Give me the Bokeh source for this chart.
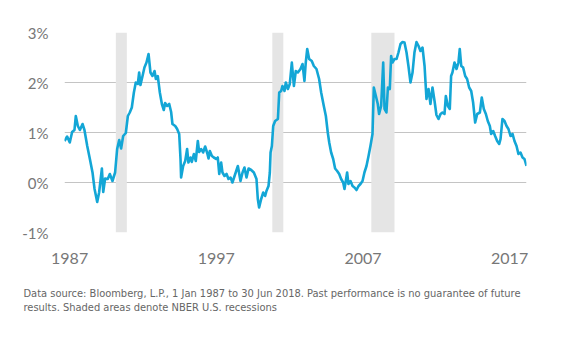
from bokeh.plotting import figure
from bokeh.models import FixedTicker, PrintfTickFormatter, CustomJSTickFormatter, Title, Range1d
from bokeh.embed import file_html
from bokeh.resources import INLINE

years = [
    1987.0, 1987.18, 1987.36, 1987.52, 1987.68, 1987.77, 1987.91, 1988.05, 1988.23, 1988.36,
    1988.55, 1988.73, 1988.91, 1989.05, 1989.23, 1989.36, 1989.55, 1989.64, 1989.77, 1989.95,
    1990.09, 1990.27, 1990.45, 1990.59, 1990.73, 1990.86, 1991.0, 1991.18, 1991.32, 1991.45,
    1991.59, 1991.73, 1991.86, 1992.0, 1992.09, 1992.18, 1992.32, 1992.45, 1992.59, 1992.73,
    1992.86, 1993.0, 1993.14, 1993.23, 1993.36, 1993.5, 1993.64, 1993.77, 1993.86, 1994.0,
    1994.14, 1994.27, 1994.36, 1994.55, 1994.68, 1994.82, 1994.91, 1994.95, 1995.09, 1995.23,
    1995.36, 1995.45, 1995.59, 1995.68, 1995.82, 1995.95, 1996.09, 1996.18, 1996.32, 1996.45,
    1996.59, 1996.73, 1996.82, 1996.91, 1997.05, 1997.18, 1997.36, 1997.45, 1997.55, 1997.68,
    1997.77, 1997.91, 1998.05, 1998.18, 1998.32, 1998.45, 1998.64, 1998.82, 1999.0, 1999.14,
    1999.27, 1999.41, 1999.55, 1999.73, 1999.91, 2000.09, 2000.18, 2000.27, 2000.41, 2000.55,
    2000.68, 2000.77, 2000.91, 2001.0, 2001.05, 2001.14, 2001.23, 2001.36, 2001.55, 2001.64,
    2001.77, 2001.86, 2002.0, 2002.09, 2002.23, 2002.36, 2002.5, 2002.64, 2002.77, 2002.91,
    2003.09, 2003.23, 2003.36, 2003.45, 2003.55, 2003.68, 2003.86, 2004.0, 2004.18, 2004.36,
    2004.5, 2004.68, 2004.82, 2004.95, 2005.05, 2005.18, 2005.32, 2005.45, 2005.59, 2005.73,
    2005.86, 2006.0, 2006.09, 2006.18, 2006.27, 2006.36, 2006.5, 2006.64, 2006.77, 2006.91,
    2007.05, 2007.18, 2007.32, 2007.45, 2007.59, 2007.73, 2007.86, 2008.0, 2008.09, 2008.23,
    2008.36, 2008.45, 2008.59, 2008.73, 2008.82, 2008.95, 2009.05, 2009.18, 2009.27, 2009.36,
    2009.5, 2009.64, 2009.77, 2009.91, 2010.05, 2010.18, 2010.32, 2010.45, 2010.59, 2010.73,
    2010.86, 2011.0, 2011.14, 2011.27, 2011.41, 2011.55, 2011.68, 2011.82, 2011.95, 2012.09,
    2012.23, 2012.36, 2012.5, 2012.64, 2012.77, 2012.91, 2013.0, 2013.14, 2013.27, 2013.36,
    2013.45, 2013.59, 2013.73, 2013.86, 2013.95, 2014.05, 2014.18, 2014.32, 2014.45, 2014.59,
    2014.73, 2014.86, 2015.0, 2015.14, 2015.32, 2015.45, 2015.59, 2015.73, 2015.86, 2016.0,
    2016.09, 2016.23, 2016.36, 2016.5, 2016.64, 2016.73, 2016.86, 2017.0, 2017.14, 2017.27,
    2017.41, 2017.55, 2017.68, 2017.82, 2017.95, 2018.09, 2018.23, 2018.36, 2018.5,
]
values = [
    0.83, 0.92, 0.80, 1.01, 1.05, 1.33, 1.13, 1.05, 1.17, 1.05,
    0.73, 0.47, 0.20, -0.13, -0.39, -0.20, 0.28, -0.19, 0.08, 0.07,
    0.17, 0.03, 0.20, 0.67, 0.85, 0.68, 0.93, 0.99, 1.33, 1.40,
    1.50, 1.80, 2.00, 1.97, 2.20, 1.95, 2.13, 2.30, 2.40, 2.57,
    2.20, 2.13, 2.23, 2.07, 2.13, 1.80, 1.57, 1.45, 1.59, 1.53,
    1.57, 1.41, 1.17, 1.13, 1.07, 0.97, 0.47, 0.10, 0.33, 0.43,
    0.67, 0.40, 0.50, 0.41, 0.57, 0.43, 0.83, 0.61, 0.67, 0.60,
    0.72, 0.59, 0.48, 0.63, 0.53, 0.50, 0.47, 0.50, 0.17, 0.40,
    0.20, 0.13, 0.17, 0.07, 0.10, 0.00, 0.17, 0.33, 0.03, 0.20,
    0.30, 0.10, 0.28, 0.25, 0.20, 0.07, -0.33, -0.50, -0.33, -0.20,
    -0.27, -0.17, -0.07, 0.20, 0.60, 0.73, 1.13, 1.23, 1.27, 1.80,
    1.83, 1.93, 1.83, 2.00, 1.87, 1.97, 2.40, 1.93, 2.23, 2.20,
    2.27, 2.37, 2.03, 2.40, 2.67, 2.47, 2.43, 2.33, 2.27, 2.07,
    1.80, 1.53, 1.33, 1.00, 0.80, 0.60, 0.47, 0.28, 0.23, 0.17,
    0.07, 0.00, -0.13, 0.03, 0.20, -0.03, 0.03, -0.07, -0.10, -0.15,
    -0.07, -0.03, 0.03, 0.20, 0.33, 0.53, 0.73, 0.97, 1.90, 1.73,
    1.57, 1.37, 1.53, 2.40, 1.47, 1.40, 1.90, 1.87, 2.53, 2.40,
    2.47, 2.47, 2.60, 2.77, 2.81, 2.80, 2.60, 2.33, 2.00, 2.20,
    2.60, 2.81, 2.73, 2.63, 2.70, 2.33, 1.67, 1.87, 1.57, 1.90,
    1.63, 1.35, 1.27, 1.37, 1.40, 1.37, 1.73, 1.53, 1.47, 2.13,
    2.20, 2.40, 2.27, 2.40, 2.67, 2.33, 2.30, 2.13, 2.07, 1.90,
    1.83, 1.60, 1.20, 1.37, 1.40, 1.70, 1.47, 1.37, 1.23, 1.13,
    0.97, 1.03, 0.93, 0.83, 0.77, 0.87, 1.27, 1.23, 1.13, 1.07,
    0.93, 0.97, 0.83, 0.73, 0.57, 0.60, 0.50, 0.47, 0.33,
]

recession_start = [1990.5, 2001.17, 2007.92]
recession_end = [1991.25, 2001.92, 2009.5]

y_ticks = [-1, 0, 1, 2, 3]
x_tick_years = [1987, 1997, 2007, 2017]

footnote_lines = [
    "Data source: Bloomberg, L.P., 1 Jan 1987 to 30 Jun 2018. Past performance is no guarantee of future",
    "results. Shaded areas denote NBER U.S. recessions",
]

p = figure(width=582, height=346, output_backend="svg", toolbar_location=None,
           x_range=Range1d(1987.0, 2018.5), y_range=Range1d(-1, 3),
           min_border_left=64, min_border_right=56, min_border_top=32, min_border_bottom=114)
p.outline_line_color = None
p.background_fill_color = "white"
p.border_fill_color = "white"

p.quad(left=recession_start, right=recession_end, bottom=-1, top=3,
       fill_color="#e5e5e5", line_color=None)

p.line(years, values, line_color="#13a6d6", line_width=2.6, line_join="round")

p.xgrid.grid_line_color = None
p.ygrid.grid_line_color = "#c4c4c4"
p.ygrid.grid_line_width = 1

p.yaxis.ticker = FixedTicker(ticks=y_ticks)
p.yaxis.formatter = PrintfTickFormatter(format="%d%%")
p.xaxis.ticker = FixedTicker(ticks=[yr + 0.35 for yr in x_tick_years])
p.xaxis.formatter = CustomJSTickFormatter(code="return Math.floor(tick).toString();")

for ax in (p.xaxis, p.yaxis):
    ax.axis_line_color = None
    ax.major_tick_line_color = None
    ax.minor_tick_line_color = None
    ax.major_label_text_font = "Lato"
    ax.major_label_text_color = "#777777"
p.yaxis.major_label_text_font_size = "15px"
p.yaxis.major_label_standoff = 10
p.xaxis.major_label_text_font_size = "16px"
p.xaxis.major_label_standoff = 14

foot_font = "'Liberation Sans Narrow', 'DejaVu Sans Condensed', 'Liberation Sans', sans-serif"
t = Title(text="\n".join(footnote_lines), align="left", text_font=foot_font,
          text_font_size="11px", text_color="#666666", text_font_style="normal",
          text_line_height=1.1, offset=-41, standoff=37)
p.add_layout(t, "below")

open("out.html", "w").write(file_html(p, INLINE))
